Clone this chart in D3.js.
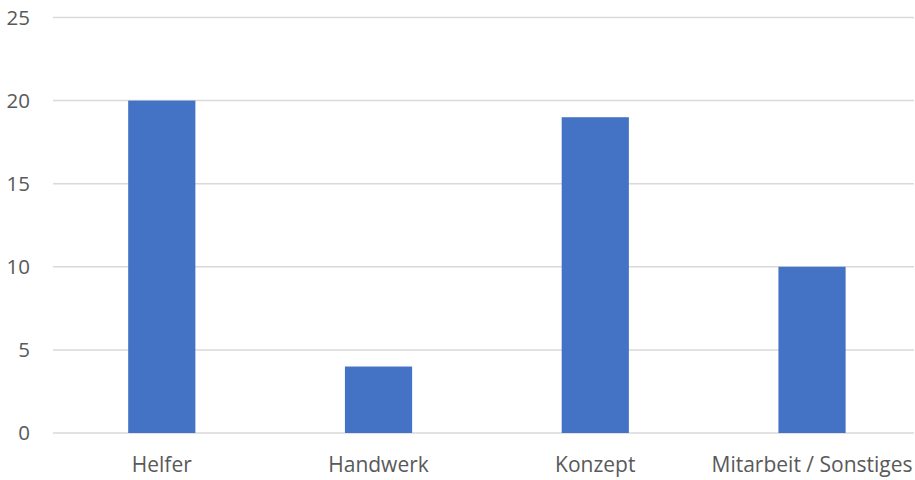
<!DOCTYPE html>
<html>
<head>
<meta charset="utf-8">
<script src="https://cdn.jsdelivr.net/npm/d3@7"></script>
<style>
  html, body { margin: 0; padding: 0; background: #fff; }
  svg { display: block; }
  text { font-family: "Open Sans", sans-serif; fill: #595959; }
</style>
</head>
<body>
<svg id="chart" width="915" height="480"></svg>
<script>
const categories = ["Helfer", "Handwerk", "Konzept", "Mitarbeit / Sonstiges"];
const values = [20, 4, 19, 10];
const yTicks = [0, 5, 10, 15, 20, 25];

const svg = d3.select("#chart");

const x = d3.scaleBand()
  .domain(categories)
  .range([53.4, 920.4])
  .paddingInner(0.69)
  .paddingOuter(0.345);

const y = d3.scaleLinear().domain([0, 25]).range([433, 17.5]);

// horizontal gridlines
svg.append("g")
  .selectAll("line")
  .data(yTicks)
  .join("line")
  .attr("x1", 53)
  .attr("x2", 914)
  .attr("y1", d => y(d))
  .attr("y2", d => y(d))
  .attr("stroke", "#d9d9d9")
  .attr("stroke-width", 1.5);

// y-axis labels
svg.append("g")
  .selectAll("text")
  .data(yTicks)
  .join("text")
  .attr("x", 30)
  .attr("y", d => y(d))
  .attr("dy", "0.36em")
  .attr("text-anchor", "end")
  .style("font-size", "20.5px")
  .text(d => d);

// bars
svg.append("g")
  .selectAll("rect")
  .data(categories)
  .join("rect")
  .attr("x", d => x(d))
  .attr("width", x.bandwidth())
  .attr("y", (d, i) => y(values[i]))
  .attr("height", (d, i) => y(0) - y(values[i]))
  .attr("fill", "#4472c4");

// category labels
svg.append("g")
  .selectAll("text")
  .data(categories)
  .join("text")
  .attr("x", d => x(d) + x.bandwidth() / 2)
  .attr("y", 472)
  .attr("text-anchor", "middle")
  .style("font-size", "21px")
  .text(d => d);
</script>
</body>
</html>
